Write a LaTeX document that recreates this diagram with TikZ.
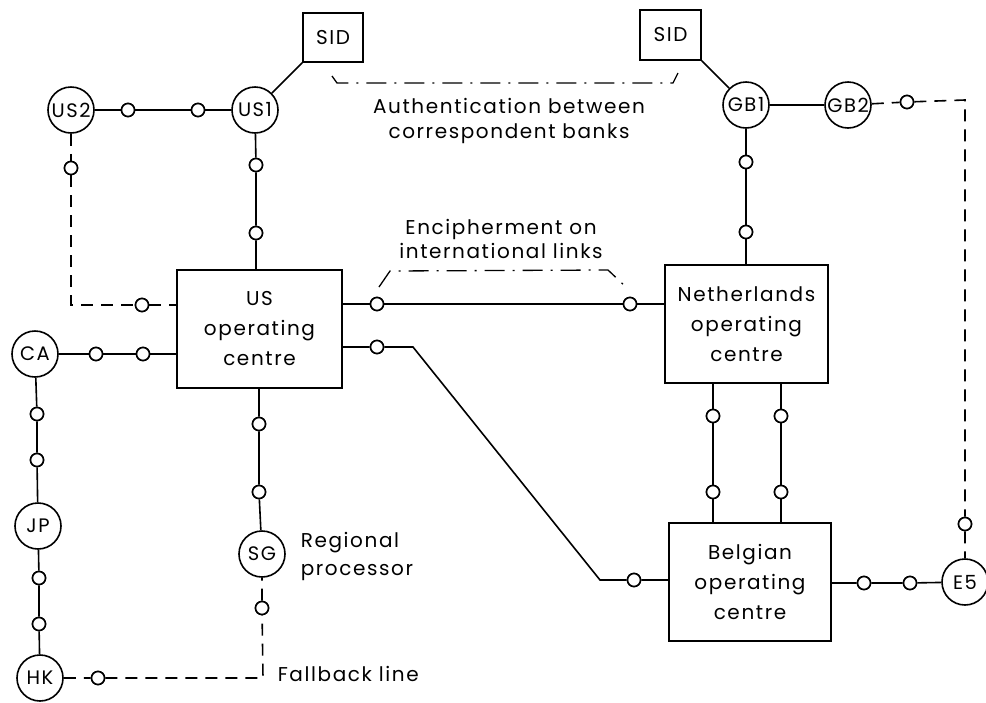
\documentclass[tikz,border=0pt]{standalone}
\usepackage{fontspec}
\setmainfont[LetterSpace=8]{Poppins}
\usetikzlibrary{calc}
\begin{document}
\begin{tikzpicture}[x=1pt,y=-1pt,line width=1.6pt,
  every node/.style={font=\fontsize{20}{30}\selectfont},
  stn/.style={circle,draw,fill=white,inner sep=0pt,minimum size=46pt,font=\fontsize{19.5}{30}\selectfont},
  ctr/.style={rectangle,draw,fill=white,inner sep=0pt,align=center},
  sidbox/.style={rectangle,draw,fill=white,inner sep=0pt,minimum width=60pt,minimum height=49pt},
  tap/.style={circle,draw,fill=white,inner sep=0pt,minimum size=13pt},
  fall/.style={dash pattern=on 12pt off 8pt},
  brk/.style={line width=1.3pt,dash pattern=on 20pt off 8pt on 2pt off 8pt},
  lbl/.style={align=center,inner sep=0pt}]
\useasboundingbox (0,0) rectangle (986,702);
% main nodes
\node[sidbox] (sidL) at (333,37.5) {SID};
\node[sidbox,minimum width=61pt,minimum height=50pt] (sidR) at (670.5,35) {SID};
\node[stn] (us2) at (71,110) {US2};
\node[stn] (us1) at (255,110) {US1};
\node[stn] (gb1) at (746,105) {GB1};
\node[stn] (gb2) at (848,105) {GB2};
\node[stn] (ca) at (35,354) {CA};
\node[stn] (jp) at (38,526) {JP};
\node[stn] (hk) at (40,678) {HK};
\node[stn] (sg) at (262,554) {SG};
\node[stn] (e5) at (965,582) {E5};
\node[ctr,minimum width=165pt,minimum height=118pt] (usc) at (259.5,329) {US\\operating\\centre};
\node[ctr,minimum width=163pt,minimum height=118pt] (nlc) at (746.5,324) {Netherlands\\operating\\centre};
\node[ctr,minimum width=162pt,minimum height=118pt] (bec) at (750,582) {Belgian\\operating\\centre};
% taps
\foreach \n/\x/\y in {a1/128/110,a2/198/110,a3/256/165,a4/256/233,a5/71/168,a6/142/305,
  a7/377/304,a8/630/304,a9/377/347,a10/634/580,a11/96/354,a12/143/354,
  a13/37/414,a14/37/460,a15/39/578,a16/39/624,a17/98/678,a18/262/608,
  a19/259/424,a20/259/492,a21/907/102,a22/965/524,a23/746/162,a24/746/232,
  a25/713/416,a26/713/492,a27/781/416,a28/781/492,a29/864/583,a30/910/583}
  {\node[tap] (\n) at (\x,\y) {};}
\coordinate (k1) at (71,305);
\coordinate (k2) at (413,347);
\coordinate (k3) at (600,580);
\coordinate (k4) at (263,678);
\coordinate (k5) at (965,100);
% connectors
\draw (sidL.south west) -- (us1);
\draw (sidR.south east) -- (gb1);
\draw (us2) -- (a1) -- (a2) -- (us1);
\draw (us1) -- (a3) -- (a4) -- (a4 |- usc.north);
\draw[fall] (us2) -- (a5) -- (k1) -- (a6) -- (a6 -| usc.west);
\draw (a7 -| usc.east) -- (a7) -- (a8) -- (a8 -| nlc.west);
\draw (a9 -| usc.east) -- (a9) -- (k2) -- (k3) -- (a10) -- (a10 -| bec.west);
\draw (ca) -- (a11) -- (a12) -- (a12 -| usc.west);
\draw (ca) -- (a13) -- (a14) -- (jp);
\draw (jp) -- (a15) -- (a16) -- (hk);
\draw[fall] (hk) -- (a17) -- (k4) -- (a18) -- (sg);
\draw (a19 |- usc.south) -- (a19) -- (a20) -- (sg);
\draw (gb1) -- (gb2);
\draw[fall] (gb2) -- (a21) -- (k5) -- (a22) -- (e5);
\draw (gb1) -- (a23) -- (a24) -- (a24 |- nlc.north);
\draw (a25 |- nlc.south) -- (a25) -- (a26) -- (a26 |- bec.north);
\draw (a27 |- nlc.south) -- (a27) -- (a28) -- (a28 |- bec.north);
\draw (a29 -| bec.east) -- (a29) -- (a30) -- (e5);
% redraw taps on top
\foreach \n in {a1,a2,a3,a4,a5,a6,a7,a8,a9,a10,a11,a12,a13,a14,a15,a16,a17,a18,a19,a20,a21,a22,a23,a24,a25,a26,a27,a28,a29,a30}
  {\node[tap] at (\n) {};}
% annotations
\coordinate (b1) at (332,76);
\coordinate (b2) at (337,83);
\coordinate (b3) at (673,83);
\coordinate (b4) at (678,73);
\draw[brk] (b1) -- (b2) -- (b3) -- (b4);
\node[lbl,font=\fontsize{20}{25}\selectfont] (auth) at (509,121) {Authentication between\\correspondent banks};
\coordinate (c1) at (379,287);
\coordinate (c2) at (390,271);
\coordinate (c3) at (608,270);
\coordinate (c4) at (626,287);
\draw[brk] (c1) -- (c2) -- (c3) -- (c4);
\node[lbl,font=\fontsize{20}{24}\selectfont] (enc) at (501,239) {Encipherment on\\international links};
\node[lbl,align=left,anchor=west,font=\fontsize{20}{28}\selectfont] (reg) at (300,556) {Regional\\processor};
\node[lbl,anchor=west] (fb) at (277,674) {Fallback line};
\end{tikzpicture}
\end{document}
